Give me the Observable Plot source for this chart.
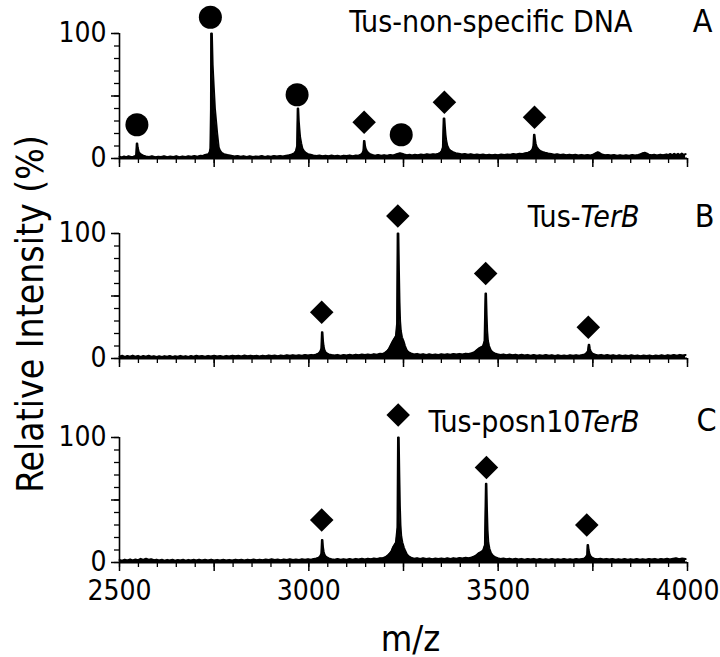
<!DOCTYPE html>
<html>
<head>
<meta charset="utf-8">
<script src="https://cdn.jsdelivr.net/npm/d3@7"></script>
<script src="https://cdn.jsdelivr.net/npm/@observablehq/plot@0.6"></script>
<style>
  html, body { margin: 0; padding: 0; background: #fff; }
  #chart { position: relative; width: 720px; height: 657px; background: #fff; }
  #chart svg { position: absolute; left: 0; overflow: visible; }
</style>
</head>
<body>
<div id="chart"></div>
<script>
// ---------- scales / ticks ----------
const xDomain = [2500, 4000];
const yDomain = [0, 100];
const xMajorTicks = [2500, 2750, 3000, 3250, 3500, 3750, 4000];
const xTickLabels = [2500, 3000, 3500, 4000];
const xMinorTicks = [2500, 2550, 2600, 2650, 2700, 2750, 2800, 2850, 2900, 2950, 3000, 3050, 3100, 3150, 3200, 3250, 3300, 3350, 3400, 3450, 3500, 3550, 3600, 3650, 3700, 3750, 3800, 3850, 3900, 3950, 4000];
const yMinorTicks = [0, 10, 20, 30, 40, 50, 60, 70, 80, 90, 100];
const yMajorTicks = [0, 50, 100];
const yTickLabels = [0, 100];

// ---------- texts ----------
const titleA = [["Tus-non-specific DNA", false]];
const titleB = [["Tus-", false], ["TerB", true]];
const titleC = [["Tus-posn10", false], ["TerB", true]];
const panelLetters = ["A", "B", "C"];
const yTitle = "Relative Intensity (%)";
const xTitle = "m/z";

// ---------- spectra: [m/z, relative intensity %] ----------
const spectrumA = [
[2500,1.5],[2506,0.8],[2512,1.6],[2518,1.0],[2524,1.8],[2530,1.2],[2536,1.5],[2541,1.8],
[2544,3],[2545.5,12],[2547,12],[2548,9],[2549.5,7],[2551,5],[2554,4],[2558,3],[2563,2.2],
[2570,1.6],[2578,1.2],[2586,1.8],[2594,1.0],[2602,1.5],[2610,1.2],[2618,1.8],[2626,1.0],[2634,1.6],[2642,1.3],[2650,1.9],[2658,1.1],[2666,1.7],[2674,1.2],[2682,1.8],[2690,1.4],[2698,2.0],[2706,1.5],[2714,2.2],[2720,2.0],[2726,2.8],[2731,3.2],[2735,3.5],[2738,5],[2740,8],
[2741.5,40],[2742,100],[2744,100],[2746,75],[2749,57],[2752,40],[2755,30],[2758,20],[2762,9],[2766,6],[2770,4.5],[2776,3.5],[2785,2.8],[2795,2.2],
[2804,1.6],[2812,2.0],[2820,1.4],[2828,1.9],[2836,1.3],[2844,1.8],[2852,1.2],[2860,1.7],[2868,1.4],[2876,2.0],[2884,1.3],[2892,1.8],[2900,1.5],[2908,2.0],[2916,1.6],[2924,2.1],[2932,1.7],[2940,2.3],[2948,2.6],[2955,3.2],[2961,4.0],[2966,6],[2969,10],
[2970.5,40],[2972,40],[2973.5,30],[2975,24],[2977,17],[2980,12],[2983,8],[2987,6],[2992,4.5],[2998,3.5],[3005,3.0],[3012,2.5],
[3020,2.0],[3028,2.4],[3036,1.8],[3044,2.3],[3052,1.9],[3060,2.4],[3068,1.8],[3076,2.2],[3084,1.7],[3092,2.3],[3100,2.0],[3108,2.5],[3116,1.9],[3124,2.4],[3131,2.2],[3137,3.0],[3141,4],
[3144,6],[3145.5,14],[3147,14],[3148.5,10],[3150,8],[3153,6],[3157,4.5],[3162,3.5],[3168,2.8],
[3175,2.3],[3183,2.8],[3191,2.2],[3199,2.7],[3207,2.2],[3215,2.8],[3223,2.5],[3230,3.2],[3236,3.8],[3241,4.2],[3246,3.9],[3252,3.2],[3259,2.7],[3266,3.0],[3273,2.5],[3280,3.0],[3288,2.6],[3296,3.2],[3304,2.8],[3312,3.4],[3320,3.0],[3328,3.5],[3336,3.2],[3342,3.8],[3347,4.5],[3351,6],[3354,9],
[3356,32],[3358,32],[3359.5,25],[3361,19],[3363,14],[3366,10],[3370,7.5],[3375,6],[3381,5],[3388,4.2],[3396,3.8],
[3404,3.2],[3412,3.6],[3420,3.0],[3428,3.5],[3436,2.9],[3444,3.3],[3452,2.8],[3460,3.2],[3468,2.7],[3476,3.1],[3484,2.6],[3492,3.0],[3500,2.7],[3508,3.2],[3516,2.8],[3524,3.3],[3532,3.0],[3540,3.6],[3548,3.3],[3556,3.9],[3564,3.7],[3572,4.2],[3579,4.6],[3585,5.5],[3590,7],[3593,10],
[3594.5,19],[3596,19],[3597.5,15],[3599,12],[3602,9],[3606,7.5],[3611,6],[3617,5.2],[3624,4.6],[3632,4.0],[3640,3.6],
[3648,3.0],[3656,3.4],[3664,2.8],[3672,3.2],[3680,2.7],[3688,3.1],[3696,2.6],[3704,3.0],[3712,2.5],[3720,2.9],[3728,2.4],[3736,2.8],[3744,2.5],[3752,3.2],[3758,4.2],[3763,5.0],[3768,4.4],[3774,3.2],[3782,2.6],[3790,2.9],[3798,2.4],[3806,2.8],[3814,2.3],[3822,2.7],[3830,2.2],[3838,2.6],[3846,2.3],[3854,2.8],[3862,2.4],[3870,2.9],[3876,3.5],[3882,4.3],[3887,4.6],[3892,4.0],[3898,3.0],[3905,2.6],[3912,3.0],[3920,2.5],[3928,3.1],[3936,2.6],[3944,3.3],[3950,2.8],[3955,3.6],[3960,2.7],[3965,3.8],[3970,2.9],[3975,3.7],[3980,2.8],[3985,3.9],[3990,3.0],[3995,3.5]
];

const spectrumB = [
[2500,1.5],[2507,2.2],[2514,1.3],[2521,2.0],[2528,1.4],[2535,2.3],[2542,1.5],[2549,2.1],[2556,1.3],[2563,2.0],[2570,1.5],[2577,2.2],[2584,1.4],[2591,1.9],[2598,1.3],[2605,1.8],[2612,1.2],[2619,1.9],[2626,1.4],[2633,2.0],[2640,1.3],[2647,1.8],[2654,1.5],[2661,2.1],[2668,1.4],[2675,1.9],[2682,1.3],[2689,2.0],[2696,1.5],[2703,2.2],[2710,1.6],[2718,2.0],[2726,1.5],[2734,2.1],[2742,1.7],[2750,2.2],[2758,1.6],[2766,2.0],[2774,1.5],[2782,2.1],[2790,1.7],[2798,2.3],[2806,1.8],[2814,2.2],[2822,1.7],[2830,2.4],[2838,1.9],[2846,2.3],[2854,1.8],[2862,2.2],[2870,1.7],[2878,2.3],[2886,1.9],[2894,2.5],[2902,2.0],[2910,2.4],[2918,1.9],[2926,2.5],[2934,2.1],[2942,2.6],[2950,2.2],[2958,2.7],[2966,2.2],[2974,2.6],[2982,2.3],[2990,2.8],[2998,2.4],[3006,2.9],[3013,2.6],[3020,3.2],[3026,4.0],[3030,5.5],[3033,8],
[3034.5,21],[3036,21],[3037.5,14],[3039,10],[3041,7],[3044,5],[3048,4],[3053,3.3],[3060,2.8],
[3068,2.4],[3076,2.9],[3084,2.3],[3092,2.8],[3100,2.4],[3108,3.0],[3116,2.5],[3124,3.1],[3132,2.6],[3140,3.2],[3148,2.8],[3156,3.3],[3164,2.9],[3172,3.5],[3180,3.1],[3188,3.8],[3195,3.6],[3201,4.5],[3207,6],[3212,8],[3217,11],[3222,14],[3226,16],[3230,18],[3233,28],
[3234.5,100],[3236.5,100],[3238,70],[3239.5,45],[3241,30],[3243,22],[3246,17],[3250,14],[3254,10],[3258,7],[3263,5],[3270,4],
[3278,3.2],[3286,3.7],[3294,3.0],[3302,3.5],[3310,2.9],[3318,3.4],[3326,2.8],[3334,3.3],[3342,2.9],[3350,3.4],[3358,3.0],[3366,3.5],[3374,3.0],[3382,3.6],[3390,3.2],[3398,3.7],[3406,3.3],[3414,3.9],[3422,3.6],[3430,4.3],[3437,5],[3443,6.5],[3449,8],[3455,9],[3460,10],[3464,14],
[3466.5,52],[3468,52],[3469.5,35],[3471,22],[3473,14],[3476,10],[3480,7],[3485,5],[3491,4],[3498,3.4],
[3506,2.8],[3514,3.3],[3522,2.7],[3530,3.2],[3538,2.6],[3546,3.1],[3554,2.5],[3562,3.0],[3570,2.4],[3578,2.9],[3586,2.3],[3594,2.8],[3602,2.2],[3610,2.7],[3618,2.3],[3626,2.8],[3634,2.2],[3642,2.7],[3650,2.1],[3658,2.6],[3666,2.0],[3674,2.5],[3682,2.1],[3690,2.6],[3698,2.2],[3706,2.7],[3714,2.3],[3722,2.8],[3729,3.3],[3734,4.5],[3737,6],
[3739,11],[3740.5,11],[3742,8],[3744,6],[3747,4.5],[3751,3.6],[3757,3.0],
[3764,2.5],[3772,2.9],[3780,2.3],[3788,2.8],[3796,2.2],[3804,2.7],[3812,2.1],[3820,2.6],[3828,2.0],[3836,2.5],[3844,2.1],[3852,2.6],[3860,2.0],[3868,2.5],[3876,1.9],[3884,2.4],[3892,2.0],[3900,2.5],[3908,1.9],[3916,2.4],[3924,2.0],[3932,2.6],[3940,2.1],[3948,2.7],[3956,2.2],[3964,2.8],[3972,2.3],[3980,2.9],[3988,2.4],[3995,2.8]
];

const spectrumC = [
[2500,2.0],[2507,1.4],[2514,2.3],[2521,1.6],[2528,2.5],[2535,1.7],[2542,2.4],[2549,1.8],[2556,2.9],[2563,2.0],[2570,3.0],[2577,2.2],[2584,2.6],[2591,1.8],[2598,2.3],[2605,1.6],[2612,2.2],[2619,1.5],[2626,2.1],[2633,1.6],[2640,2.2],[2647,1.5],[2654,2.0],[2661,1.6],[2668,2.2],[2675,1.5],[2682,2.1],[2689,1.6],[2696,2.2],[2703,1.7],[2710,2.3],[2718,1.6],[2726,2.2],[2734,1.7],[2742,2.3],[2750,1.6],[2758,2.1],[2766,1.7],[2774,2.2],[2782,1.6],[2790,2.1],[2798,1.7],[2806,2.3],[2814,1.8],[2822,2.2],[2830,1.7],[2838,2.3],[2846,1.8],[2854,2.4],[2862,1.9],[2870,2.3],[2878,1.8],[2886,2.4],[2894,2.0],[2902,2.6],[2910,2.0],[2918,2.4],[2926,1.9],[2934,2.5],[2942,2.0],[2950,2.6],[2958,2.1],[2966,2.5],[2974,2.1],[2982,2.6],[2990,2.2],[2998,2.7],[3006,2.3],[3013,2.9],[3020,3.2],[3026,3.8],[3030,5],[3033,7],
[3034.5,18],[3036,18],[3037.5,12],[3039,9],[3041,6.5],[3044,5],[3048,4],[3053,3.2],[3060,2.7],
[3068,2.3],[3076,2.8],[3084,2.2],[3092,2.7],[3100,2.3],[3108,2.8],[3116,2.3],[3124,2.9],[3132,2.4],[3140,3.0],[3148,2.5],[3156,3.1],[3164,2.7],[3172,3.3],[3180,2.9],[3188,3.5],[3195,3.4],[3202,4.2],[3208,5.5],[3213,7],[3218,9],[3222,12],[3226,14],[3230,16],[3234,28],
[3235.5,100],[3237.5,100],[3239,70],[3240.5,45],[3242,30],[3244,21],[3247,16],[3251,12],[3255,9],[3259,6.5],[3264,4.8],[3270,3.8],
[3278,3.0],[3286,3.5],[3294,2.9],[3302,3.4],[3310,2.8],[3318,3.3],[3326,2.7],[3334,3.2],[3342,2.8],[3350,3.3],[3358,2.9],[3366,3.4],[3374,2.9],[3382,3.5],[3390,3.1],[3398,3.6],[3406,3.2],[3414,3.8],[3422,3.5],[3430,4.1],[3437,4.8],[3443,6],[3449,7.5],[3455,8.5],[3460,9.5],[3465,14],
[3467.5,63],[3469,63],[3470.5,42],[3472,26],[3474,16],[3477,11],[3481,7.5],[3486,5.5],[3492,4.2],[3499,3.4],
[3506,2.8],[3514,3.2],[3522,2.6],[3530,3.1],[3538,2.5],[3546,3.0],[3554,2.4],[3562,2.9],[3570,2.3],[3578,2.8],[3586,2.4],[3594,2.9],[3602,2.3],[3610,2.8],[3618,2.2],[3626,2.7],[3634,2.3],[3642,2.8],[3650,2.2],[3658,2.7],[3666,2.3],[3674,2.8],[3682,2.2],[3690,2.7],[3698,2.3],[3706,2.8],[3714,2.4],[3722,2.9],[3728,3.2],[3732,4.5],[3735,6],
[3736,14],[3737.5,14],[3739,10],[3741,7],[3744,5],[3748,3.8],[3754,3.1],
[3762,2.6],[3770,3.0],[3778,2.5],[3786,2.9],[3794,2.4],[3802,2.8],[3810,2.3],[3818,2.7],[3826,2.3],[3834,2.8],[3842,2.2],[3850,2.7],[3858,2.3],[3866,2.8],[3874,2.2],[3882,2.7],[3890,2.3],[3898,2.8],[3906,2.4],[3914,2.9],[3922,2.3],[3930,2.8],[3938,2.4],[3946,3.0],[3954,2.5],[3962,3.1],[3970,3.4],[3978,2.6],[3986,3.2],[3995,2.8]
];

// ---------- peak markers: [m/z, relative intensity %] ----------
const circlesA  = [[2546, 27], [2740, 113], [2969, 51], [3244, 19]];
const diamondsA = [[3146, 29], [3358, 45], [3596, 33]];
const circlesB  = [];
const diamondsB = [[3034, 37], [3235, 114], [3467, 68], [3738, 25]];
const circlesC  = [];
const diamondsC = [[3034, 34], [3236, 118], [3469, 76], [3734, 30]];

// ---------- rendering ----------
const FONT = "'DejaVu Sans Condensed', 'DejaVu Sans', sans-serif";
const toRows = (arr) => arr.map(([mz, rel]) => ({mz, rel}));

const panels = [
  {spectrum: spectrumA, circles: circlesA, diamonds: diamondsA, title: titleA, letter: panelLetters[0],
   top: 0, height: 200, marginTop: 33, marginBottom: 42, xLabels: false,
   titleDx: -55, titleDy: -2, letterDx: 15, letterDy: -2},
  {spectrum: spectrumB, circles: circlesB, diamonds: diamondsB, title: titleB, letter: panelLetters[1],
   top: 200, height: 200, marginTop: 33, marginBottom: 42, xLabels: false, yTitle: true,
   titleDx: -48, titleDy: -7, letterDx: 17, letterDy: -7},
  {spectrum: spectrumC, circles: circlesC, diamonds: diamondsC, title: titleC, letter: panelLetters[2],
   top: 400, height: 257, marginTop: 37, marginBottom: 95, xLabels: true, xTitle: true,
   titleDx: -48, titleDy: -6, letterDx: 19, letterDy: -7}
];

const chart = document.getElementById("chart");

for (const p of panels) {
  const rows = toRows(p.spectrum);
  const titleText = p.title.map(d => d[0]).join("");
  const marks = [
    Plot.areaY(rows, {x: "mz", y: "rel", fill: "black"}),
    Plot.lineY(rows, {x: "mz", y: "rel", stroke: "black", strokeWidth: 2}),
    Plot.ruleY([yDomain[0]], {stroke: "black", strokeWidth: 1.8}),
    Plot.ruleX([{x: xDomain[0], y1: yDomain[0], y2: yDomain[1]}], {x: "x", y1: "y1", y2: "y2", stroke: "black", strokeWidth: 1.6}),
    Plot.axisX(xMinorTicks, {tickSize: 5, tickFormat: () => "", strokeWidth: 1.3, label: null}),
    Plot.axisX(xMajorTicks, {tickSize: 9, tickPadding: 9, strokeWidth: 1.5, label: null, fontSize: 28,
      tickFormat: d => (p.xLabels && xTickLabels.includes(d)) ? String(d) : ""}),
    Plot.axisY(yMinorTicks, {tickSize: 5, tickFormat: () => "", strokeWidth: 1.3, label: null}),
    Plot.axisY(yMajorTicks, {tickSize: 8, tickPadding: 5, strokeWidth: 1.5, label: null, fontSize: 28,
      tickFormat: d => yTickLabels.includes(d) ? String(d) : ""}),
    Plot.dot(toRows(p.circles), {x: "mz", y: "rel", symbol: "circle", r: 11.5, fill: "black", stroke: "none"}),
    Plot.dot(toRows(p.diamonds), {x: "mz", y: "rel", symbol: "diamond2", r: 10.6, fill: "black", stroke: "none"}),
    Plot.text([titleText], {frameAnchor: "top-right", textAnchor: "end", lineAnchor: "bottom",
      dx: p.titleDx, dy: p.titleDy, fontSize: 30, fill: "black"}),
    Plot.text([p.letter], {frameAnchor: "top-right", textAnchor: "middle", lineAnchor: "bottom",
      dx: p.letterDx, dy: p.letterDy, fontSize: 32, fill: "black"})
  ];
  if (p.yTitle) {
    marks.push(Plot.text([yTitle], {frameAnchor: "left", rotate: -90, textAnchor: "middle", lineAnchor: "bottom",
      dx: -77, dy: 18, fontSize: 37, fill: "black"}));
  }
  if (p.xTitle) {
    marks.push(Plot.text([xTitle], {frameAnchor: "bottom", textAnchor: "middle", lineAnchor: "bottom",
      dx: 7, dy: 88, fontSize: 36, fill: "black"}));
  }
  const svg = Plot.plot({
    width: 720,
    height: p.height,
    marginLeft: 119,
    marginRight: 33,
    marginTop: p.marginTop,
    marginBottom: p.marginBottom,
    x: {domain: xDomain, label: null},
    y: {domain: yDomain, label: null},
    style: {fontFamily: FONT, fontStretch: "condensed", fontSize: "28px", color: "black", background: "transparent", overflow: "visible"},
    marks
  });
  svg.style.top = p.top + "px";
  // mixed roman / italic title
  if (p.title.length > 1) {
    for (const t of svg.querySelectorAll("text")) {
      if (t.textContent === titleText) {
        t.textContent = "";
        for (const [part, italic] of p.title) {
          const ts = document.createElementNS("http://www.w3.org/2000/svg", "tspan");
          ts.textContent = part;
          if (italic) ts.setAttribute("font-style", "italic");
          t.appendChild(ts);
        }
      }
    }
  }
  chart.appendChild(svg);
}
</script>
</body>
</html>
